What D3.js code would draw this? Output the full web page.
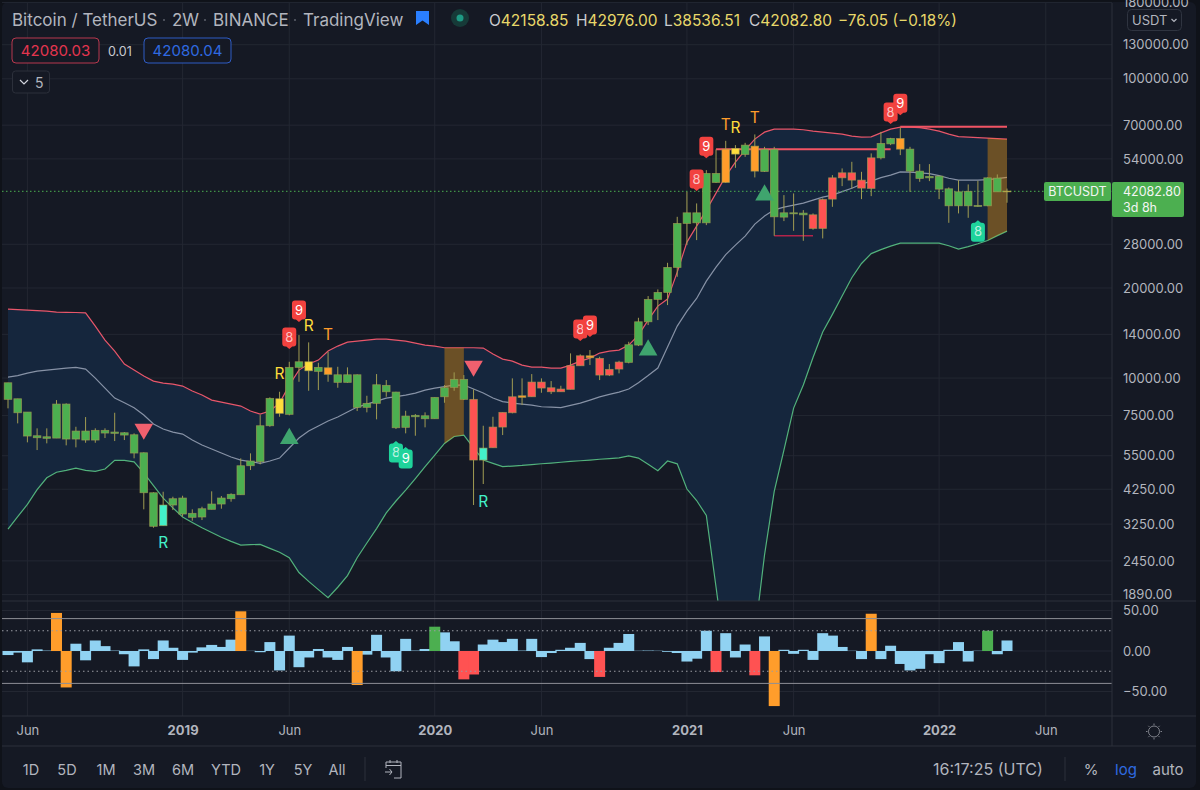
<!DOCTYPE html>
<html>
<head>
<meta charset="utf-8">
<script src="https://cdn.jsdelivr.net/npm/d3@7"></script>
<style>
  html, body { margin: 0; padding: 0; background: #0f1219; }
  svg { display: block; }
  text { font-family: Inter, "Noto Sans", sans-serif; }
  .axis .domain { display: none; }
</style>
</head>
<body>
<div id="chart"></div>
<script>
// BTCUSDT 2W candles, one entry per bar
const opens = [9645,8528,7699,6416,6289,6300,8187,6255,6652,6207,6688,6601,6565,6465,5629,4138,3211,3765,3973,3532,3433,3642,3794,3952,4075,5094,5253,6929,8528,7564,10858,11336,10529,10824,10257,9675,10257,7982,8232,9454,8979,6844,7425,7483,7312,8660,9310,9900,8489,5322,5850,6859,7657,8620,8660,9697,9281,9000,9168,10992,11871,11636,10233,10717,11284,12890,15420,18320,19333,23432,32871,35665,33021,48290,45061,58529,55893,59573,49037,58078,34503,35665,35581,35118,31630,39628,46681,48513,45861,43026,54443,60631,63204,58214,49151,46681,47294,42896,37636,42047,37463,37636,46569,42158.85];
const closes = [8489,7657,6401,6318,6366,8187,6255,6652,6207,6688,6550,6535,6450,5616,4138,3196,3765,3952,3513,3425,3659,3794,3973,4088,5094,5281,6929,8554,7622,10858,11336,10578,10858,10289,9675,10257,7982,8232,9498,9000,6823,7466,7506,7312,8620,9281,9900,8489,5322,5836,6859,7681,8660,8727,9697,9260,9000,9189,10992,11871,11690,10233,10692,11310,12920,15420,18320,19333,23432,32871,35665,33021,48290,45061,58214,56022,60034,49151,58078,34581,35665,35390,35118,31630,39537,46681,48513,45861,43128,54443,60820,63204,58214,49151,46467,47186,42794,37636,41916,37636,37752,46681,41916,42082.8];
const highs = [9645,8528,7699,6792,6792,8443,8232,6875,7408,6792,6792,7657,6601,6535,5647,4151,4170,4013,4044,3642,3716,4183,4034,4119,5392,5603,7523,8620,9000,11336,13921,13160,11249,12242,10908,10858,10289,8727,10312,9847,9000,7776,7581,7681,8620,9476,10448,10233,9168,6929,7425,7681,9977,9977,10312,9977,9772,9425,12092,12000,12403,11780,11137,11424,13221,15901,18792,19784,24276,34581,41916,38335,49530,58078,62052,60034,61105,65180,59253,59253,40866,41404,36410,35500,39840,47663,50184,52795,48887,56324,66499,63502,68796,59253,51875,51875,47406,43358,45861,44371,45617,46826,47916,42976];
const lows = [7921,7057,6098,5747,6051,6300,5959,5868,6079,6079,6303,6159,6207,5392,3642,3161,3211,3622,3441,3336,3354,3642,3659,3862,4075,4928,5149,6875,7425,7506,9719,9069,9118,9719,9281,9645,7758,7681,7278,8660,6755,6535,6416,6844,7312,8270,9069,8443,3765,4425,5850,6450,7622,8124,8660,8931,8842,9000,9168,10992,11052,9847,10155,10368,11197,12791,15034,15624,17533,21798,27818,28908,32443,44900,44900,50416,54870,46826,48830,29881,33459,31052,28754,31300,29288,37347,43793,43026,39628,40552,53777,60034,55590,41916,45267,45511,39628,33021,35500,34317,37347,37520,41916,38536.51];
// g green, r red, y yellow, o orange, t teal
const candleState = ["g","g","g","g","g","g","g","g","g","g","g","g","g","g","g","g","t","g","g","g","g","g","g","g","g","g","g","g","y","g","g","y","g","o","g","g","g","g","g","g","g","g","g","g","g","g","g","g","r","t","r","r","r","o","r","r","r","r","r","r","o","r","r","r","g","g","g","g","g","g","g","g","g","g","o","y","g","o","g","g","g","g","g","r","r","r","r","r","r","r","g","g","o","g","g","g","g","g","g","g","g","g","g","y"];

// Bollinger bands, one entry per bar
const upperBand = [17000,16935,16870,16805,16740,16610,16585,16560,16520,14918,13395,12308,11137,10634,10155,9772,9623,9549,9404,9048,8775,8443,8314,8187,8062,7758,7581,7758,8250,9476,10634,11137,11485,12308,12791,13190,13293,13395,13499,13499,13395,13293,13089,12890,12791,12625,12625,12625,12625,12594,12028,11574,11397,11052,10883,10883,10799,10799,11052,11397,11662,12120,12308,12403,12890,13920,15624,17399,18362,22601,28467,32196,36410,41498,47294,52675,57768,62868,66344,67892,67892,67892,67570,66859,66344,65835,65331,64333,63840,63987,65985,67892,68945,68945,68680,67892,66859,65331,64090,63840,63590,63340,63110,62868];
const middleBand = [10077,10194,10392,10553,10634,10717,10799,10858,10717,10000,9260,8574,8270,7964,7523,7021,6755,6601,6500,6207,5973,5792,5616,5446,5322,5261,5188,5281,5404,5837,6303,6652,6913,7184,7408,7699,8000,8187,8378,8574,8672,8774,8910,9118,9260,9367,9476,9476,9189,8910,8574,8346,8250,8187,8124,8020,7992,7969,8107,8250,8443,8653,8821,8979,9189,9652,10194,10799,12691,14918,16743,18447,21089,23486,25857,27818,29811,32694,34770,36494,37262,37840,38427,39323,40241,40870,41982,43090,44473,45511,46755,47660,48887,48770,48510,48180,47470,46530,45860,45860,45860,46040,46390,46830];
const lowerBand = [3130,3443,3782,4238,4641,4845,4916,5004,4916,4875,4966,5309,5305,5248,4823,4374,3967,3684,3433,3293,3161,3047,2939,2847,2767,2776,2780,2696,2617,2510,2240,2092,1964,1845,2000,2187,2510,2811,3140,3545,3883,4225,4616,5062,5531,6047,6381,6450,5846,5322,5188,5058,5082,5105,5137,5173,5201,5233,5265,5293,5322,5355,5384,5413,5492,5404,5149,4901,5281,5169,4258,3897,3473,2003,1143,980,1099,1385,2563,4180,5747,7939,9476,11708,14246,16323,18792,21647,24146,26057,26871,27604,28249,28249,28249,28249,28249,27690,26974,27497,28118,28820,29927,30980];

// Oscillator histogram, one entry per bar
const oscValues = [-5,-2,-14,2,0.5,47,-45,9,-11.5,13,6,0.5,-4,-19,2,-10,13,4,-11,-2,4.5,7.5,5,14,49,0.2,-1.5,11,-24,19,-20,-8,2.5,-8,-11,5,-42,-4.5,20,-8,-25,15,0.5,2.5,30,23,12,-35,-29,8,14,11,15,0.5,15,-7.5,-2.5,1.5,4,10,-10,-32,4,10,21,0.3,0.5,0.3,-1,-2.5,-13,-9.5,25,-26,22,-8,8,-30,18,-68,1.5,-3.5,1.5,-11,22,19,5,0.3,-10,46,-10,6.5,-16,-24,-22,-4,-15,1.5,11,-13,0.3,25,-4,13];
// b blue, o orange, g green, r red
const oscState = ["b","b","b","b","b","o","o","b","b","b","b","b","b","b","b","b","b","b","b","b","b","b","b","b","o","b","b","b","b","b","b","b","b","b","b","b","o","b","b","b","b","b","b","b","g","b","b","r","r","b","b","b","b","b","b","b","b","b","b","b","b","r","b","b","b","b","b","b","b","b","b","b","b","r","b","b","b","r","b","o","b","b","b","b","b","b","b","b","b","o","b","b","b","b","b","b","b","b","b","b","b","g","b","b"];

// Signals on the chart
const sellFlagBars = [29,30,59,60,71,72,91,92];
const sellFlagPrices = [12500,15380,13290,13710,42150,54300,70600,75600];
const sellFlagText = ["8","9","8","9","8","9","8","9"];
const buyFlagBars = [40,41,100];
const buyFlagPrices = [6160,5880,33700];
const buyFlagText = ["8","9","8"];
const downTriBars = [14,48];
const downTriPrices = [6755,10970];
const upTriBars = [29,66,78];
const upTriPrices = [6280,12400,40870];
const letterBars = [16,28,31,33,49,74,75,77];
const letterPrices = [2832,10390,15030,14030,3880,70600,69000,74500];
const letterText = ["R","R","R","T","R","T","R","T"];
const letterState = ["t","y","y","o","t","o","y","o"];
const squeezeZones = [[45,47],[101,103]];
// level, first bar, last bar
const resistanceLines = [[58214,73,91],[69115,92,103]];
const supportLines = [[29881,79,83]];

// Axis ticks
const priceTicks = [180000,130000,100000,70000,54000,28000,20000,14000,10000,7500,5500,4250,3250,2450,1890];
const oscTicks = [50,0,-50];
const timeTickBars = [2,18,29,44,55,70,81,96,107];
const timeTickLabels = ["Jun","2019","Jun","2020","Jun","2021","Jun","2022","Jun"];
const rangeButtons = ["1D","5D","1M","3M","6M","YTD","1Y","5Y","All"];
const rangeButtonCenters = [31,67,106,144,183,226,267,303,337];

const lastPrice = 42082.80;

const svgWidth = 1200, svgHeight = 790;
const paneRight = 1112, paneBottom = 601, oscBottom = 716, timeBottom = 746;

const svg = d3.select("#chart").append("svg")
    .attr("width", svgWidth)
    .attr("height", svgHeight);

const bg = "#151924", gridColor = "#232732", lineColor = "#2c303b", textColor = "#b2b5be";

svg.append("rect")
    .attr("x", 2).attr("y", 2)
    .attr("width", 1194).attr("height", 786)
    .attr("rx", 6)
    .attr("fill", bg);

// Scales
const x = d3.scaleLinear().domain([0, 103]).range([8, 1007]);
const y = d3.scaleLog().domain([1799, 179200]).range([paneBottom, 3]);
const yOsc = d3.scaleLinear().domain([-50, 50]).range([691.5, 610.5]);

const candleColor = d3.scaleOrdinal()
    .domain(["g","r","y","o","t"])
    .range(["#4caf50","#ff5252","#ffdd3c","#ff9d2b","#43f0c9"]);
const oscColor = d3.scaleOrdinal()
    .domain(["b","o","g","r"])
    .range(["#90d2f2","#ff9d2b","#4caf50","#ff5252"]);

const defs = svg.append("defs");
defs.append("clipPath").attr("id", "paneClip").append("rect")
    .attr("x", 2).attr("y", 3).attr("width", paneRight - 2).attr("height", paneBottom - 3);

// Grid lines
const grid = svg.append("g").attr("stroke", gridColor).attr("stroke-width", 1);
grid.selectAll(".v").data(timeTickBars).enter().append("line")
    .attr("x1", d => x(d)).attr("x2", d => x(d))
    .attr("y1", 3).attr("y2", oscBottom);
grid.selectAll(".h").data(priceTicks).enter().append("line")
    .attr("x1", 2).attr("x2", paneRight)
    .attr("y1", d => y(d)).attr("y2", d => y(d));
grid.selectAll(".o").data(oscTicks).enter().append("line")
    .attr("x1", 2).attr("x2", paneRight)
    .attr("y1", d => yOsc(d)).attr("y2", d => yOsc(d));

const pane = svg.append("g").attr("clip-path", "url(#paneClip)");
const bars = d3.range(opens.length);

// Band fill and lines
const bandArea = d3.area()
    .x(i => x(i))
    .y0(i => y(lowerBand[i]))
    .y1(i => y(upperBand[i]));
pane.append("path").attr("d", bandArea(bars)).attr("fill", "#15263d");

function bandLine(values, color) {
    const line = d3.line().x(i => x(i)).y(i => y(values[i]));
    pane.append("path")
        .attr("d", line(bars))
        .attr("fill", "none")
        .attr("stroke", color)
        .attr("stroke-width", 1.2);
}
bandLine(upperBand, "#e8566a");
bandLine(middleBand, "#8792a6");
bandLine(lowerBand, "#52b27c");

// Orange zones sit over the band lines but under the candles
squeezeZones.forEach(z => {
    pane.append("path")
        .attr("d", bandArea(d3.range(z[0], z[1] + 1)))
        .attr("fill", "#ff9800")
        .attr("fill-opacity", 0.37);
});

// Levels
resistanceLines.forEach(l => {
    pane.append("line")
        .attr("x1", x(l[1])).attr("x2", x(l[2]))
        .attr("y1", y(l[0])).attr("y2", y(l[0]))
        .attr("stroke", "#f25464").attr("stroke-width", 2);
});
supportLines.forEach(l => {
    pane.append("line")
        .attr("x1", x(l[1])).attr("x2", x(l[2]))
        .attr("y1", y(l[0])).attr("y2", y(l[0]))
        .attr("stroke", "#b3234a").attr("stroke-width", 1.5);
});

// Last price line
pane.append("line")
    .attr("x1", 2).attr("x2", paneRight)
    .attr("y1", y(lastPrice)).attr("y2", y(lastPrice))
    .attr("stroke", "#4caf50")
    .attr("stroke-width", 1)
    .attr("stroke-dasharray", "1.5 2.5");

// Candles
const wickColor = "#a19c52";
const candles = pane.append("g").selectAll("g").data(bars).enter().append("g");
candles.append("line")
    .attr("x1", i => x(i)).attr("x2", i => x(i))
    .attr("y1", i => y(highs[i])).attr("y2", i => y(lows[i]))
    .attr("stroke", wickColor)
    .attr("stroke-width", 1);
candles.append("rect")
    .attr("x", i => x(i) - 3.8)
    .attr("width", 7.6)
    .attr("y", i => y(Math.max(opens[i], closes[i])))
    .attr("height", i => Math.max(0.8, Math.abs(y(opens[i]) - y(closes[i]))))
    .attr("fill", i => candleColor(candleState[i]))
    .attr("stroke", wickColor)
    .attr("stroke-opacity", 0.75)
    .attr("stroke-width", 0.8);

// Triangles
pane.selectAll(".tdown").data(downTriBars).enter().append("path")
    .attr("d", d3.symbol().type(d3.symbolTriangle).size(150))
    .attr("transform", (d, i) => `translate(${x(d)},${y(downTriPrices[i])}) rotate(180)`)
    .attr("fill", "#f0606e");
pane.selectAll(".tup").data(upTriBars).enter().append("path")
    .attr("d", d3.symbol().type(d3.symbolTriangle).size(150))
    .attr("transform", (d, i) => `translate(${x(d)},${y(upTriPrices[i])})`)
    .attr("fill", "#3fa46e");

// Flag outline with its tip at 0,0; dir -1 sits above the tip, 1 below
function flagPath(dir) {
    const p = d3.path(), w = 7, h = 19, t = 2.5, r = 3;
    const a = dir * t, b = dir * (t + h);
    p.moveTo(0, 0);
    p.lineTo(3, a);
    p.lineTo(w - r, a);
    p.quadraticCurveTo(w, a, w, a + dir * r);
    p.lineTo(w, b - dir * r);
    p.quadraticCurveTo(w, b, w - r, b);
    p.lineTo(-w + r, b);
    p.quadraticCurveTo(-w, b, -w, b - dir * r);
    p.lineTo(-w, a + dir * r);
    p.quadraticCurveTo(-w, a, -w + r, a);
    p.lineTo(-3, a);
    p.closePath();
    return p.toString();
}
function drawFlags(barList, priceList, textList, dir, color) {
    const flags = pane.append("g").selectAll("g").data(barList).enter().append("g")
        .attr("transform", (d, i) => `translate(${x(d)},${y(priceList[i])})`);
    flags.append("path").attr("d", flagPath(dir)).attr("fill", color);
    flags.append("text")
        .attr("y", dir * 11.5)
        .attr("dy", "0.36em")
        .attr("text-anchor", "middle")
        .attr("font-size", 13)
        .attr("fill", "#fff")
        .attr("fill-opacity", (d, i) => textList[i] === "8" ? 0.7 : 1)
        .text((d, i) => textList[i]);
}
drawFlags(sellFlagBars, sellFlagPrices, sellFlagText, -1, "#f2423f");
drawFlags(buyFlagBars, buyFlagPrices, buyFlagText, 1, "#1fd39b");

// R and T letters
pane.selectAll(".letter").data(letterBars).enter().append("text")
    .attr("x", d => x(d))
    .attr("y", (d, i) => y(letterPrices[i]))
    .attr("dy", "0.36em")
    .attr("text-anchor", "middle")
    .attr("font-size", 15.5)
    .attr("fill", (d, i) => candleColor(letterState[i]))
    .text((d, i) => letterText[i]);

// Oscillator pane
svg.append("g").selectAll("rect").data(bars).enter().append("rect")
    .attr("x", i => x(i) - 5.5)
    .attr("width", 11)
    .attr("y", i => yOsc(Math.max(oscValues[i], 0)))
    .attr("height", i => Math.abs(yOsc(oscValues[i]) - yOsc(0)))
    .attr("fill", i => oscColor(oscState[i]))
    .sort((a, b) => (oscState[a] !== "b") - (oscState[b] !== "b"));

[40, -40].forEach(v => {
    svg.append("line")
        .attr("x1", 2).attr("x2", paneRight)
        .attr("y1", yOsc(v)).attr("y2", yOsc(v))
        .attr("stroke", "#8d8f96").attr("stroke-width", 1);
});
[25, -25].forEach(v => {
    svg.append("line")
        .attr("x1", 2).attr("x2", paneRight)
        .attr("y1", yOsc(v)).attr("y2", yOsc(v))
        .attr("stroke", "#9a9ca3").attr("stroke-width", 1)
        .attr("stroke-dasharray", "1.5 3");
});

// Frame lines
[paneBottom, oscBottom, timeBottom].forEach(v => {
    svg.append("line")
        .attr("x1", 2).attr("x2", 1196)
        .attr("y1", v).attr("y2", v)
        .attr("stroke", lineColor);
});
svg.append("line")
    .attr("x1", paneRight).attr("x2", paneRight)
    .attr("y1", 3).attr("y2", timeBottom)
    .attr("stroke", lineColor);

// Price axis
const priceAxis = svg.append("g")
    .attr("class", "axis")
    .attr("transform", `translate(${paneRight},0)`)
    .call(d3.axisRight(y).tickValues(priceTicks).tickSize(0).tickPadding(11)
        .tickFormat(d3.format(".2f")));
priceAxis.selectAll("text")
    .attr("fill", textColor)
    .style("font-size", "13px");

const oscAxis = svg.append("g")
    .attr("class", "axis")
    .attr("transform", `translate(${paneRight},0)`)
    .call(d3.axisRight(yOsc).tickValues(oscTicks).tickSize(0).tickPadding(11)
        .tickFormat(d3.format(".2f")));
oscAxis.selectAll("text")
    .attr("fill", textColor)
    .style("font-size", "13px");

// Time axis
const timeAxis = svg.append("g")
    .attr("class", "axis")
    .attr("transform", `translate(0,${oscBottom})`)
    .call(d3.axisBottom(x).tickValues(timeTickBars).tickSize(0).tickPadding(10)
        .tickFormat((d, i) => timeTickLabels[i]));
timeAxis.selectAll("text")
    .attr("fill", textColor)
    .style("font-size", "13px")
    .style("font-weight", (d, i) => /^\d/.test(timeTickLabels[i]) ? 700 : 400);

// Last price labels
svg.append("rect")
    .attr("x", 1044).attr("y", 182).attr("width", 67).attr("height", 19)
    .attr("rx", 2).attr("fill", "#4caf50");
svg.append("text")
    .attr("x", 1077.5).attr("y", 196)
    .attr("text-anchor", "middle")
    .attr("font-size", 12.5).attr("fill", "#f3f5f3")
    .text("BTCUSDT");
svg.append("rect")
    .attr("x", 1112).attr("y", 182).attr("width", 72).attr("height", 35)
    .attr("rx", 2).attr("fill", "#4caf50");
svg.append("text")
    .attr("x", 1123).attr("y", 196)
    .attr("font-size", 12.5).attr("fill", "#f3f5f3")
    .text(d3.format(".2f")(lastPrice));
svg.append("text")
    .attr("x", 1123).attr("y", 212)
    .attr("font-size", 12.5).attr("fill", "#f3f5f3")
    .text("3d 8h");

// Currency button
svg.append("rect")
    .attr("x", 1127.5).attr("y", 9.5).attr("width", 54).attr("height", 21)
    .attr("rx", 4).attr("fill", bg).attr("stroke", "#2f3440");
svg.append("text")
    .attr("x", 1132).attr("y", 25)
    .attr("font-size", 13).attr("fill", textColor)
    .text("USDT");
svg.append("path")
    .attr("d", "M1171.5 19l2.5 2.5 2.5-2.5")
    .attr("fill", "none").attr("stroke", textColor).attr("stroke-width", 1.2);

// Legend header
const title = svg.append("g").attr("font-size", 17).attr("fill", textColor);
[["Bitcoin / TetherUS", 12], ["2W", 172], ["BINANCE", 213], ["TradingView", 303]].forEach(t => {
    title.append("text").attr("x", t[1]).attr("y", 25.5).text(t[0]);
});
[164, 205, 295].forEach(c => {
    title.append("circle").attr("cx", c).attr("cy", 20).attr("r", 1).attr("fill", "#5d606b");
});
svg.append("path")
    .attr("d", "M416 11h13v14l-6.5-4.5-6.5 4.5z")
    .attr("fill", "#2a7fff");
svg.append("circle").attr("cx", 460).attr("cy", 18).attr("r", 9).attr("fill", "#163a38");
svg.append("circle").attr("cx", 460).attr("cy", 18).attr("r", 3.5).attr("fill", "#1e9a84");

const ohlcLabels = ["O", "H", "L", "C"];
const ohlcValues = ["42158.85", "42976.00", "38536.51", "42082.80"];
const ohlcX = [489, 576, 664, 749];
ohlcLabels.forEach((l, i) => {
    const t = svg.append("text").attr("x", ohlcX[i]).attr("y", 25.5).attr("font-size", 15.5);
    t.append("tspan").attr("fill", "#c9cbd0").text(l);
    t.append("tspan").attr("fill", "#e8d86a").text(ohlcValues[i]);
});
svg.append("text")
    .attr("x", 838).attr("y", 25.5)
    .attr("font-size", 15.3).attr("fill", "#e8d86a")
    .text("\u221276.05 (\u22120.18%)");

// Bid and ask boxes
svg.append("rect")
    .attr("x", 12).attr("y", 38).attr("width", 87).attr("height", 25)
    .attr("rx", 4).attr("fill", bg).attr("stroke", "#b8384e").attr("stroke-width", 1);
svg.append("text")
    .attr("x", 55.5).attr("y", 56).attr("text-anchor", "middle")
    .attr("font-size", 15).attr("fill", "#e4354f").text("42080.03");
svg.append("text")
    .attr("x", 108).attr("y", 55.5)
    .attr("font-size", 12.5).attr("fill", "#c9cbd0").text("0.01");
svg.append("rect")
    .attr("x", 144).attr("y", 38).attr("width", 87).attr("height", 25)
    .attr("rx", 4).attr("fill", bg).attr("stroke", "#2f5cc4").attr("stroke-width", 1);
svg.append("text")
    .attr("x", 187.5).attr("y", 56).attr("text-anchor", "middle")
    .attr("font-size", 15).attr("fill", "#2f6ae0").text("42080.04");
svg.append("rect")
    .attr("x", 12.5).attr("y", 71).attr("width", 37).attr("height", 22)
    .attr("rx", 3).attr("fill", bg).attr("stroke", "#2c303b");
svg.append("path")
    .attr("d", "M20 80l4 4 4-4")
    .attr("fill", "none").attr("stroke", "#d1d4dc").attr("stroke-width", 1.2);
svg.append("text")
    .attr("x", 35).attr("y", 87.5)
    .attr("font-size", 14).attr("fill", textColor).text("5");

// Bottom toolbar
svg.append("g").selectAll("text").data(rangeButtons).enter().append("text")
    .attr("x", (d, i) => rangeButtonCenters[i])
    .attr("y", 775)
    .attr("text-anchor", "middle")
    .attr("font-size", 14.5)
    .attr("fill", textColor)
    .text(d => d);
[365, 1065].forEach(c => {
    svg.append("line")
        .attr("x1", c).attr("x2", c)
        .attr("y1", 757).attr("y2", 781)
        .attr("stroke", lineColor);
});
svg.append("path")
    .attr("d", "M386 768v-6h15v16h-7M386 765.5h15M390 760v3M397 760v3M385 772h7M389.5 769l2.5 3-2.5 3")
    .attr("fill", "none").attr("stroke", textColor).attr("stroke-width", 1);
svg.append("text")
    .attr("x", 933).attr("y", 775)
    .attr("font-size", 16).attr("fill", textColor)
    .text("16:17:25 (UTC)");
svg.append("text")
    .attr("x", 1091).attr("y", 775).attr("text-anchor", "middle")
    .attr("font-size", 15).attr("fill", textColor).text("%");
svg.append("text")
    .attr("x", 1126).attr("y", 775).attr("text-anchor", "middle")
    .attr("font-size", 15).attr("fill", "#2f6ae0").text("log");
svg.append("text")
    .attr("x", 1168).attr("y", 775).attr("text-anchor", "middle")
    .attr("font-size", 15).attr("fill", textColor).text("auto");

// Settings sun icon
const sun = svg.append("g")
    .attr("transform", "translate(1154,731.5)")
    .attr("stroke", "#80838c").attr("fill", "none");
sun.append("circle").attr("r", 5.5);
d3.range(8).forEach(k => {
    const a = k * Math.PI / 4;
    sun.append("line")
        .attr("x1", 6.5 * Math.cos(a)).attr("y1", 6.5 * Math.sin(a))
        .attr("x2", 8 * Math.cos(a)).attr("y2", 8 * Math.sin(a));
});
</script>
</body>
</html>
